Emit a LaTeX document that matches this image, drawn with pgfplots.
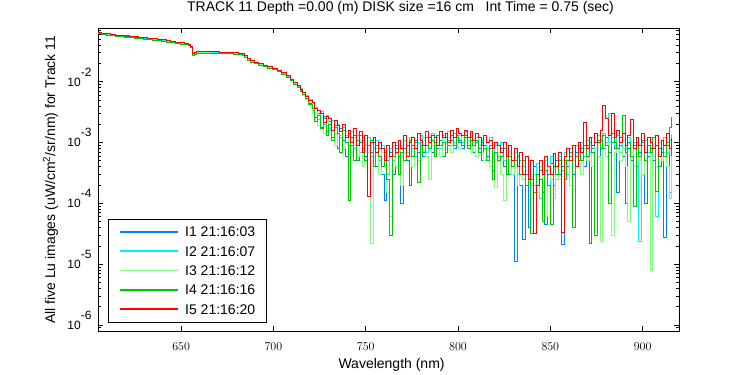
\documentclass[border=0pt]{standalone}
\usepackage{fontspec}
\setmainfont{Liberation Sans}
\usepackage{pgfplots}
\usepackage{pgfplotstable}
\pgfplotsset{compat=1.18}
\definecolor{cA}{rgb}{0,0.5,1}
\definecolor{cB}{rgb}{0,0.95,1}
\definecolor{cC}{rgb}{0.5,1,0.5}
\definecolor{cD}{rgb}{0,0.78,0}
\definecolor{cE}{rgb}{1,0,0}
\pgfplotstableread{
x a b c d e
605 0.0640 0.0648 0.0625 0.0618 0.0650
607 0.0615 0.0625 0.0603 0.0596 0.0628
609.5 0.0600 0.0606 0.0588 0.0580 0.0612
612 0.0582 0.0594 0.0570 0.0566 0.0598
614.5 0.0574 0.0583 0.0562 0.0555 0.0586
617 0.0562 0.0575 0.0550 0.0548 0.0578
619.5 0.0556 0.0566 0.0544 0.0540 0.0570
622 0.0548 0.0552 0.0535 0.0532 0.0560
624.5 0.0532 0.0545 0.0523 0.0520 0.0548
627 0.0522 0.0532 0.0512 0.0507 0.0535
629.5 0.0513 0.0519 0.0500 0.0498 0.0525
632 0.0502 0.0514 0.0494 0.0490 0.0517
634.5 0.0497 0.0505 0.0487 0.0483 0.0510
637 0.0488 0.0495 0.0477 0.0474 0.0500
639.5 0.0474 0.0485 0.0466 0.0462 0.0488
642 0.0464 0.0470 0.0453 0.0450 0.0475
644.5 0.0450 0.0459 0.0441 0.0437 0.0462
647 0.0438 0.0446 0.0430 0.0427 0.0450
649.5 0.0430 0.0434 0.0420 0.0417 0.0440
652 0.0416 0.0425 0.0408 0.0405 0.0428
654 0.0404 0.0411 0.0396 0.0393 0.0415
655 0.0370 0.0380 0.0366 0.0362 0.0385
656 0.0270 0.0285 0.0278 0.0275 0.0290
657 0.0290 0.0297 0.0287 0.0284 0.0300
658.5 0.0304 0.0309 0.0298 0.0295 0.0312
661 0.0305 0.0311 0.0300 0.0297 0.0314
663.5 0.0302 0.0310 0.0298 0.0296 0.0312
666 0.0300 0.0306 0.0296 0.0294 0.0310
668.5 0.0300 0.0306 0.0295 0.0293 0.0309
671 0.0298 0.0305 0.0293 0.0291 0.0307
673.5 0.0296 0.0302 0.0291 0.0289 0.0305
676 0.0295 0.0300 0.0290 0.0287 0.0303
678.5 0.0292 0.0297 0.0286 0.0284 0.0300
681 0.0288 0.0293 0.0283 0.0280 0.0296
683 0.0280 0.0285 0.0275 0.0273 0.0288
684.5 0.0255 0.0264 0.0256 0.0253 0.0268
686 0.0230 0.0237 0.0229 0.0227 0.0240
687.5 0.0216 0.0220 0.0212 0.0210 0.0222
689.5 0.0203 0.0208 0.0200 0.0198 0.0210
692 0.0192 0.0196 0.0189 0.0187 0.0198
694.5 0.0182 0.0186 0.0179 0.0177 0.0188
697 0.0172 0.0176 0.0170 0.0168 0.0178
699.5 0.0161 0.0165 0.0159 0.0157 0.0167
702 0.0148 0.0152 0.0146 0.0145 0.0154
704.5 0.0134 0.0139 0.0133 0.0132 0.0141
707 0.0119 0.0124 0.0118 0.0117 0.0125
709 0.0105 0.0110 0.0104 0.0103 0.0111
711 0.0093 0.0097 0.0092 0.0091 0.0098
713 0.0080 0.0085 0.0080 0.0079 0.0086
714.5 0.0071 0.0077 0.0069 0.0070 0.0076
716 0.0061 0.0067 0.0059 0.0062 0.0066
717.5 0.0052 0.0060 0.0051 0.0053 0.0058
719 0.0044 0.0051 0.0045 0.0043 0.0050
721 3.4e-3 4.4e-3 3.0e-3 3.6e-3 4.6e-3
722.5 2.6e-3 3.8e-3 3.1e-3 2.2e-3 3.6e-3
724 3.0e-3 2.4e-3 1.9e-3 2.8e-3 3.4e-3
725.5 1.8e-3 3.3e-3 2.6e-3 1.7e-3 3.0e-3
727 2.7e-3 2.0e-3 1.4e-3 2.5e-3 2.1e-3
728.5 1.5e-3 2.8e-3 2.2e-3 1.3e-3 2.7e-3
730 2.2e-3 1.7e-3 1.6e-3 2.0e-3 2.5e-3
731.5 1.2e-3 2.3e-3 1.8e-3 1.1e-3 1.6e-3
733 1.9e-3 1.4e-3 9e-4 1.8e-3 2.3e-3
734.5 8e-4 2.0e-3 1.6e-3 1.4e-3 1.9e-3
736 1.7e-3 1.2e-3 1.3e-3 7e-4 1.5e-3
737.5 1.1e-3 1.8e-3 8e-4 1.6e-3 2.0e-3
739 6e-4 1.3e-3 1.5e-3 1.0e-3 1.2e-3
740.5 1.4e-3 9e-4 1.1e-3 1.1e-4 1.6e-3
742 9e-4 1.5e-3 7e-4 1.2e-3 1.0e-3
743.5 1.3e-3 8e-4 1.2e-3 5e-4 1.7e-3
745 5e-4 1.3e-3 6e-4 1.1e-3 9e-4
746.5 1.0e-3 7e-4 1.1e-3 1.3e-3 1.5e-3
748 1.2e-3 1.1e-3 4e-4 8e-4 7e-4
749.5 6e-4 9e-4 1.0e-3 5e-4 1.3e-3
751 9e-4 1.2e-3 7e-4 9e-4 1.3e-4
752.5 7e-4 6e-4 2.2e-5 1.1e-3 1.0e-3
754 1.0e-3 8e-4 6e-4 4e-4 1.2e-3
755.5 4e-4 1.1e-3 8e-4 9e-4 7e-4
757 8e-4 5e-4 3e-4 6e-4 1.0e-3
758.5 3e-4 9e-4 7e-4 4e-4 8e-4
760 1.1e-4 6e-4 4e-4 7e-4 5e-4
761.5 5e-4 3e-4 1.5e-4 2.5e-4 9e-4
763 7e-4 8e-4 6e-5 3e-5 6e-4
764.5 3e-4 5e-4 9e-4 6e-4 1.0e-3
766 8e-4 1.0e-3 4e-4 9e-4 7e-4
767.5 6e-4 4e-4 8e-4 3e-4 1.1e-3
769 1.0e-4 9e-4 2e-4 7e-4 8e-4
770.5 8e-4 1.1e-3 7e-4 5e-4 1.3e-3
772 5e-4 7e-4 1.0e-3 9e-4 6e-4
773.5 2e-4 1.2e-3 6e-4 1.1e-3 1.0e-3
775 9e-4 8e-4 4e-4 6e-4 1.2e-3
776.5 1.1e-3 6e-4 9e-4 1.0e-3 8e-4
778 7e-4 1.0e-3 5e-4 2.2e-4 1.4e-3
779.5 1.0e-3 1.3e-3 8e-4 9e-4 1.1e-3
781 6e-4 9e-4 1.1e-3 7e-4 9e-4
782.5 9e-4 7e-4 6e-4 1.2e-3 1.5e-3
784 1.2e-3 1.1e-3 2.5e-4 8e-4 1.0e-3
785.5 7e-4 1.4e-3 9e-4 1.1e-3 1.3e-3
787 1.0e-3 9e-4 7e-4 6e-4 1.2e-3
788.5 8e-4 1.2e-3 1.0e-3 1.3e-3 9e-4
790 1.1e-3 8e-4 6e-4 9e-4 1.5e-3
791.5 6e-4 1.3e-3 1.1e-3 1.0e-3 1.2e-3
793 1.2e-3 1.0e-3 8e-4 7e-4 1.4e-3
794.5 9e-4 1.5e-3 1.2e-3 1.1e-3 1.0e-3
796 1.1e-3 9e-4 7e-4 1.3e-3 1.6e-3
797.5 8e-4 1.4e-3 1.0e-3 9e-4 1.2e-3
799 1.3e-3 1.1e-3 9e-4 1.2e-3 1.7e-3
800.5 1.0e-3 1.3e-3 8e-4 1.1e-3 1.4e-3
802 8e-4 1.0e-3 1.2e-3 9e-4 1.3e-3
803.5 1.2e-3 1.5e-3 9e-4 1.3e-3 1.6e-3
805 9e-4 1.1e-3 1.1e-3 8e-4 1.2e-3
806.5 1.1e-3 1.4e-3 7e-4 1.2e-3 1.5e-3
808 7e-4 1.0e-3 1.0e-3 9e-4 1.1e-3
809.5 1.0e-3 1.2e-3 6e-4 1.1e-3 1.4e-3
811 8e-4 9e-4 9e-4 7e-4 1.2e-3
812.5 5e-4 1.1e-3 7e-4 1.0e-3 9e-4
814 9e-4 8e-4 5e-4 8e-4 1.3e-3
815.5 6e-4 1.0e-3 8e-4 5e-4 1.0e-3
817 8e-4 1.2e-3 4e-4 9e-4 1.1e-3
818.5 3.5e-4 7e-4 6e-4 2.5e-4 8e-4
820 7e-4 9e-4 1.8e-4 7e-4 1.0e-3
821.5 5e-4 6e-4 7e-4 5e-4 9e-4
823 8e-4 1.0e-3 3e-4 6e-4 7e-4
824.5 4e-4 5e-4 1.1e-4 8e-4 1.0e-3
826 6e-4 8e-4 5e-4 3e-4 6e-4
827.5 3e-4 6e-4 4e-4 6e-4 9e-4
829 5e-4 4e-4 3e-4 4e-4 5e-4
830.5 1.1e-5 7e-4 5e-4 5e-4 8e-4
832 4e-4 3e-4 2e-4 6e-4 4e-4
833.5 2e-4 5e-4 4e-4 3e-4 7e-4
835 2.6e-5 4e-4 2.5e-4 5e-4 3e-4
836.5 3e-4 2e-4 3.5e-4 2e-4 6e-4
838 4e-5 5e-4 2e-4 4e-4 2.5e-4
839.5 2.5e-4 3e-4 1.2e-4 3.2e-5 5e-4
841 4e-4 2e-4 3e-4 1.5e-4 3.2e-5
842.5 2e-4 4.5e-4 1.5e-4 3e-4 2e-4
844 3.5e-4 1.2e-4 4e-4 2.5e-4 5e-4
845.5 1.5e-4 3e-4 2e-4 5e-5 3e-4
847 4.5e-5 5e-4 6e-5 3.5e-4 6e-4
848.5 3e-4 2e-4 3.5e-4 2e-4 4e-4
850 4.5e-4 6e-4 2.5e-4 4.5e-5 3e-4
851.5 2e-4 4e-4 1.2e-4 4e-4 6.5e-4
853 5e-4 2.5e-4 4e-4 3e-4 4e-4
854.5 3e-4 6e-4 2.5e-4 5e-4 7e-4
856 2.1e-5 3.5e-4 5e-4 4e-4 3.3e-5
857.5 5e-4 7e-4 3e-4 2.5e-4 6e-4
859 4e-4 3e-4 6e-4 5e-4 8e-4
860.5 6e-4 8e-4 2e-4 7e-4 5e-4
862 3e-4 5e-4 5e-4 4e-5 9e-4
863.5 7e-4 9e-4 4e-4 6e-4 4e-4
865 5e-4 4e-4 7e-4 8e-4 1.0e-3
866.5 8e-4 1.0e-3 3e-4 5e-4 7e-4
868 4e-4 6e-4 8e-4 9e-4 2.1e-3
869.5 9e-4 1.1e-3 5e-4 6e-4 8e-4
871 2.2e-5 7e-4 9e-4 1.0e-3 1.2e-3
872.5 8e-4 1.2e-3 4e-4 7e-4 9e-4
874 1.0e-3 8e-4 8e-4 3e-5 1.4e-3
875.5 6e-4 1.3e-3 6e-4 1.1e-3 1.0e-3
877 1.1e-3 9e-4 2.4e-5 8e-4 1.6e-3
878.5 8e-4 1.4e-3 9e-4 1.3e-3 4.0e-3
880 1.2e-3 1.0e-3 6e-4 9e-4 2.5e-3
881.5 7e-4 3.0e-3 1.0e-3 1.0e-4 1.3e-3
883 1.0e-3 1.2e-3 3e-5 1.4e-3 3.0e-3
884.5 8e-4 9e-4 7e-4 1.0e-3 1.2e-3
886 1.5e-4 1.3e-3 9e-4 8e-4 1.6e-3
887.5 9e-4 7e-4 5e-4 1.2e-3 1.0e-3
889 6e-4 1.1e-3 8e-4 2.8e-3 1.4e-3
890.5 1.0e-4 8e-4 4e-4 7e-4 9e-4
892 8e-4 1.2e-3 5e-5 1.0e-3 1.3e-3
893.5 5e-4 7e-4 7e-4 6e-4 2.4e-3
895 9e-4 1.0e-3 4e-4 9e-5 8e-4
896.5 4e-4 6e-4 8e-4 1.0e-3 1.2e-3
898 7e-4 2.4e-5 5e-4 6e-4 9e-4
899.5 1.0e-3 9e-4 3e-4 1.1e-3 1.4e-3
901 1.0e-4 1.1e-3 7e-4 5e-4 7e-4
902.5 6e-4 7e-4 9e-4 9e-4 1.2e-3
904 8e-4 1.2e-3 8e-6 7e-4 1.0e-3
905.5 5e-4 6e-4 6e-4 1.2e-3 8e-4
907 9e-4 6e-5 4e-4 1.6e-4 1.3e-3
908.5 4e-4 1.0e-3 8e-4 8e-4 6e-4
910 7e-4 8e-4 5e-4 1.1e-3 1.1e-3
911.5 2.8e-5 1.2e-3 7e-4 6e-4 9e-4
913 9e-4 7e-4 4e-4 1.0e-3 1.4e-3
914.5 1.5e-4 1.1e-3 1.2e-4 1.8e-3 8e-4
915.5 8e-4 1.4e-3 6e-4 2.6e-3 1.2e-3
}\data
\begin{document}
\begin{tikzpicture}
\useasboundingbox (0,0) rectangle (750pt,375pt);
\begin{axis}[
  at={(98pt,43.7pt)}, anchor=south west,
  scale only axis, width=581pt, height=303pt,
  xmin=605, xmax=919.7,
  ymode=log, ymin=7.9e-7, ymax=0.0755,
  xtick={650,700,750,800,850,900},
  ytick={1e-6,1e-5,1e-4,1e-3,1e-2},
  yticklabels={10\raisebox{10pt}{-6},10\raisebox{10pt}{-5},10\raisebox{10pt}{-4},10\raisebox{10pt}{-3},10\raisebox{10pt}{-2}},
  minor ytick={8e-7,9e-7,2e-6,3e-6,4e-6,5e-6,6e-6,7e-6,8e-6,9e-6,2e-5,3e-5,4e-5,5e-5,6e-5,7e-5,8e-5,9e-5,2e-4,3e-4,4e-4,5e-4,6e-4,7e-4,8e-4,9e-4,2e-3,3e-3,4e-3,5e-3,6e-3,7e-3,8e-3,9e-3,2e-2,3e-2,4e-2,5e-2,6e-2,7e-2},
  major tick length=5pt, minor tick length=3pt,
  tick style={line width=0.8pt, black},
  axis line style={line width=0.8pt},
  xticklabel style={font=\fontsize{12}{12}\selectfont, anchor=base, inner sep=0pt, yshift=-18.7pt},
  yticklabel style={font=\fontsize{12}{12}\selectfont, anchor=base east, inner sep=0pt, xshift=-6.3pt, yshift=-4.3pt},
  title={TRACK 11 Depth =0.00 (m) DISK size =16 cm~~~Int Time = 0.75 (sec)},
  title style={font=\fontsize{14}{14}\selectfont, at={(axis description cs:0.5207,1)}, anchor=base, inner sep=0pt, yshift=10.8pt},
  xlabel={Wavelength (nm)},
  xlabel style={font=\fontsize{14}{14}\selectfont, at={(axis description cs:0.5053,0)}, anchor=base, inner sep=0pt, yshift=-36.7pt},
  ylabel={All five Lu images (uW/cm\textsuperscript{2}/sr/nm) for Track 11},
  ylabel style={font=\fontsize{14}{14}\selectfont, at={(axis description cs:-0.074,0.5)}, rotate=0, anchor=base, inner sep=0pt},
  legend cell align=left,
  legend image code/.code={\draw[#1, line width=1.5pt] (0pt,0pt) -- (58pt,0pt);},
  legend style={at={(axis description cs:0.0177,0.0297)}, anchor=south west, line width=0.8pt, fill=white,
    inner xsep=10.7pt, inner ysep=7.8pt, row sep=9.3pt, column sep=6.3pt,
    font=\fontsize{14}{14}\selectfont,
    nodes={inner sep=0pt, text height=10pt, text depth=0pt}},
  every axis plot/.append style={line width=0.9pt},
]
\addplot[draw=cA, no marks, const plot] table[x=x, y=a] {\data};
\addlegendentry{I1 21:16:03}
\addplot[draw=cB, no marks, const plot] table[x=x, y=b] {\data};
\addlegendentry{I2 21:16:07}
\addplot[draw=cC, no marks, const plot] table[x=x, y=c] {\data};
\addlegendentry{I3 21:16:12}
\addplot[draw=cD, no marks, const plot] table[x=x, y=d] {\data};
\addlegendentry{I4 21:16:16}
\addplot[draw=cE, no marks, const plot] table[x=x, y=e] {\data};
\addlegendentry{I5 21:16:20}
\end{axis}
\end{tikzpicture}
\end{document}
